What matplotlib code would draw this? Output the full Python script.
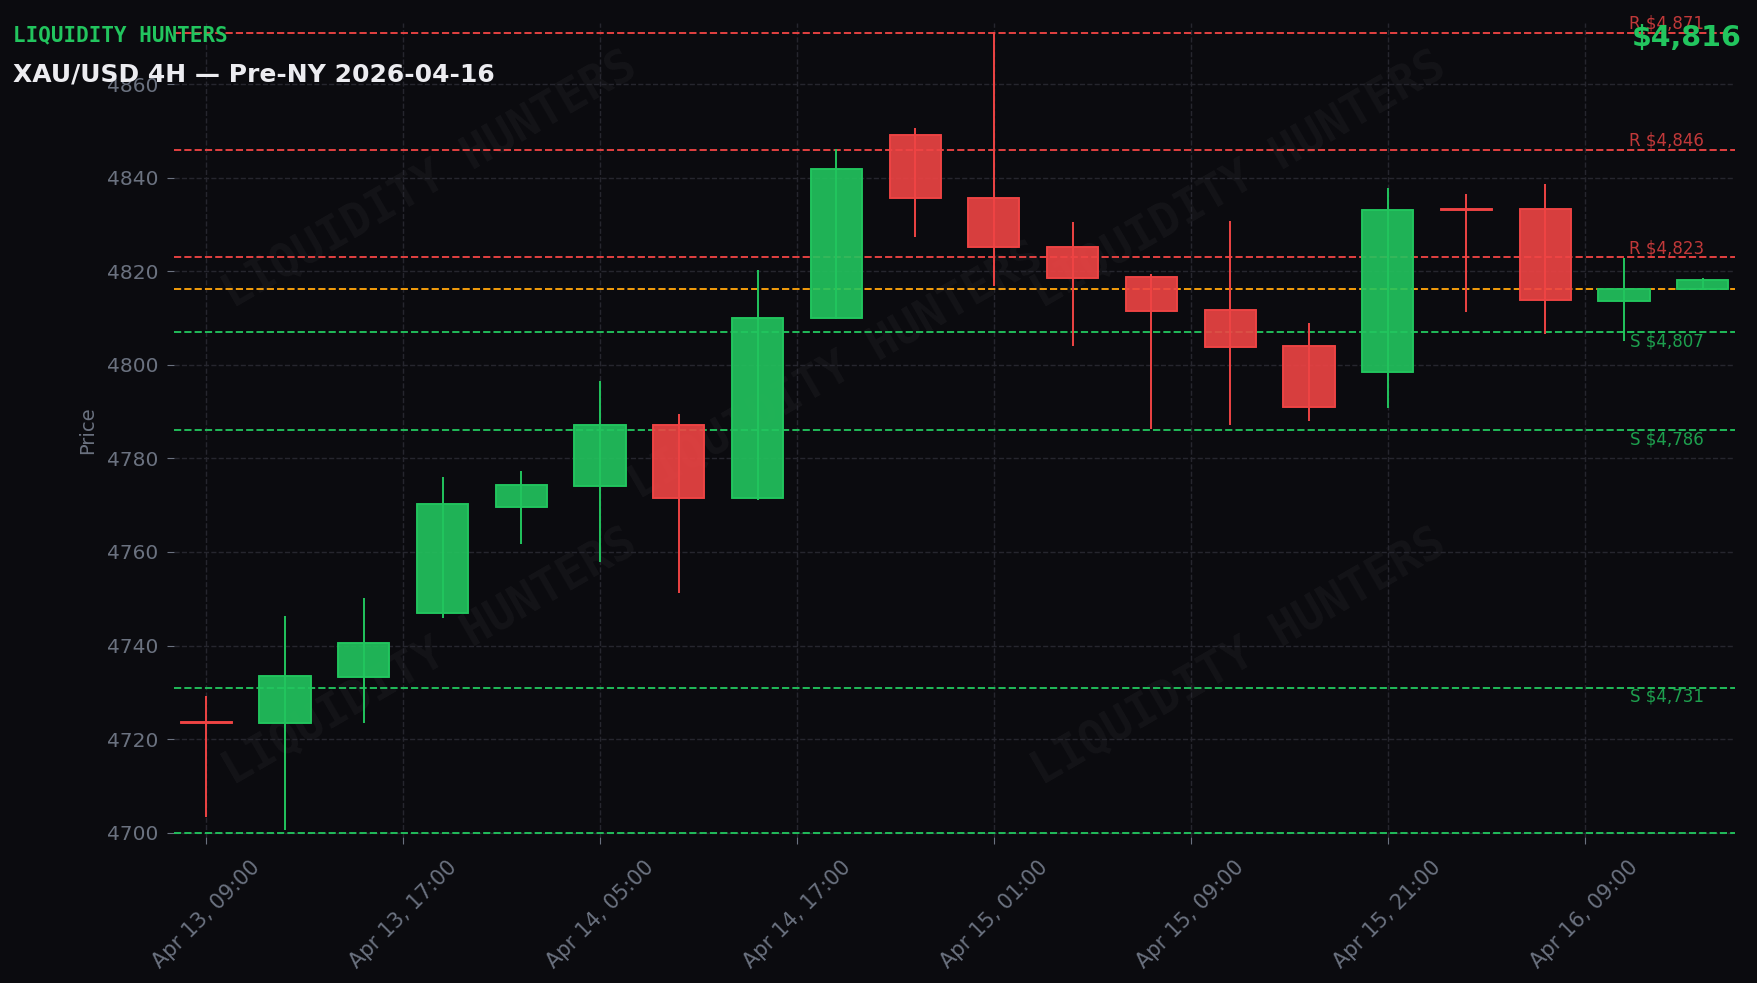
import matplotlib
matplotlib.use("Agg")
import matplotlib.pyplot as plt
from matplotlib.patches import Rectangle
import matplotlib.transforms as mtransforms

# ---------------- data ----------------
opens = [4723.7, 4723.4, 4733.2, 4746.9, 4769.7, 4774.2, 4787.2, 4771.5, 4810.1, 4849.2,
         4835.7, 4825.2, 4818.7, 4811.8, 4804.1, 4798.4, 4833.4, 4833.4, 4813.7, 4816.2]
highs = [4729.2, 4746.3, 4750.2, 4776.0, 4777.3, 4796.5, 4789.4, 4820.2, 4846.2, 4850.7,
         4871.1, 4830.5, 4819.5, 4830.7, 4808.9, 4837.8, 4836.5, 4838.6, 4822.9, 4818.5]
lows = [4703.4, 4700.6, 4723.5, 4745.9, 4761.8, 4757.9, 4751.3, 4771.2, 4809.7, 4827.4,
        4816.9, 4804.1, 4786.3, 4787.1, 4788.0, 4790.8, 4811.3, 4806.6, 4805.1, 4816.0]
closes = [4723.5, 4733.4, 4740.5, 4770.2, 4774.4, 4787.1, 4771.5, 4810.1, 4841.9, 4835.6,
          4825.1, 4818.5, 4811.6, 4803.9, 4790.9, 4833.1, 4833.2, 4813.8, 4816.2, 4818.2]

tick_pos = [0, 2.5, 5, 7.5, 10, 12.5, 15, 17.5]
tick_labels = ["Apr 13, 09:00", "Apr 13, 17:00", "Apr 14, 05:00", "Apr 14, 17:00",
               "Apr 15, 01:00", "Apr 15, 09:00", "Apr 15, 21:00", "Apr 16, 09:00"]

resistance = [4871, 4846, 4823]
support = [4807, 4786, 4731]
range_low = 4700
current_price = 4816.2

BG = "#0b0b0f"
GREEN = "#22c55e"
RED = "#ef4444"
ORANGE = "#f59e0b"
GRAY = "#6b7280"
GRID = "#26262e"

plt.rcParams.update({
    "font.family": "DejaVu Sans",
    "figure.dpi": 100,
})

fig, ax = plt.subplots(figsize=(17.58, 9.83), dpi=100)
fig.patch.set_facecolor(BG)
ax.set_facecolor(BG)
fig.subplots_adjust(left=174 / 1758, right=1735 / 1758, top=1 - 23.3 / 983, bottom=1 - 837.4 / 983)

# watermark
for wx, wy in [(0.164, 0.807), (0.682, 0.807), (0.424, 0.573), (0.164, 0.221), (0.682, 0.221)]:
    ax.text(wx, wy, "LIQUIDITY HUNTERS", transform=ax.transAxes, rotation=30,
            ha="center", va="center", fontsize=33, fontfamily="DejaVu Sans Mono",
            fontweight="bold", color="white", alpha=0.04, zorder=0)

# candles
width = 0.65
for i, (o, h, l, c) in enumerate(zip(opens, highs, lows, closes)):
    col = GREEN if c >= o else RED
    ax.plot([i, i], [l, h], color=col, lw=1.4, zorder=3, solid_capstyle="butt")
    ax.add_patch(Rectangle((i - width / 2, min(o, c)), width, abs(c - o),
                           facecolor=col, edgecolor=col, alpha=0.9, lw=1.2, zorder=4))
    ax.add_patch(Rectangle((i - width / 2, min(o, c)), width, abs(c - o),
                           facecolor="none", edgecolor=col, lw=1.2, zorder=4))

# levels
lbl_tr = mtransforms.blended_transform_factory(ax.transAxes, ax.transData)
for lvl in resistance:
    ax.axhline(lvl, color=RED, ls="--", lw=1.4, alpha=0.95, zorder=2)
    ax.text(0.98, lvl, f"R ${lvl:,}", transform=lbl_tr, ha="right", va="bottom",
            color=RED, alpha=0.8, fontsize=12, zorder=5)
for lvl in support:
    ax.axhline(lvl, color=GREEN, ls="--", lw=1.4, alpha=0.95, zorder=2)
    ax.text(0.98, lvl, f"S ${lvl:,}", transform=lbl_tr, ha="right", va="top",
            color=GREEN, alpha=0.8, fontsize=12, zorder=5)
ax.axhline(range_low, color=GREEN, ls="--", lw=1.4, alpha=0.95, zorder=2)
ax.axhline(current_price, color=ORANGE, ls="--", lw=1.4, zorder=2)

ax.set_xlim(-0.41, 19.41)
ax.set_ylim(4699, 4873)
ax.set_yticks(range(4700, 4861, 20))
ax.set_xticks(tick_pos)
ax.set_xticklabels(tick_labels, rotation=45, ha="center")
ax.tick_params(colors=GRAY, labelsize=14.5, length=5, pad=6.5)
ax.tick_params(axis="x", labelsize=15, pad=9)
ax.grid(True, color=GRID, ls="--", lw=1.0, zorder=1)
ax.set_axisbelow(True)
for s in ax.spines.values():
    s.set_visible(False)
ax.set_ylabel("Price", color=GRAY, fontsize=14)
ax.yaxis.set_label_coords(-0.049, 0.5)

fig.text(0.0075, 1 - 41 / 983, "LIQUIDITY HUNTERS", color=GREEN, fontsize=15,
         fontfamily="DejaVu Sans Mono", fontweight="bold", va="baseline")
fig.text(0.0075, 1 - 82 / 983, "XAU/USD 4H — Pre-NY 2026-04-16", color="#ececf0",
         fontsize=18, fontweight="bold", va="baseline")
fig.text(0.9905, 1 - 46 / 983, f"${current_price:,.0f}", color=GREEN, fontsize=20.5,
         fontweight="bold", ha="right", va="baseline")

fig.savefig("out.png", dpi=100, facecolor=BG)
